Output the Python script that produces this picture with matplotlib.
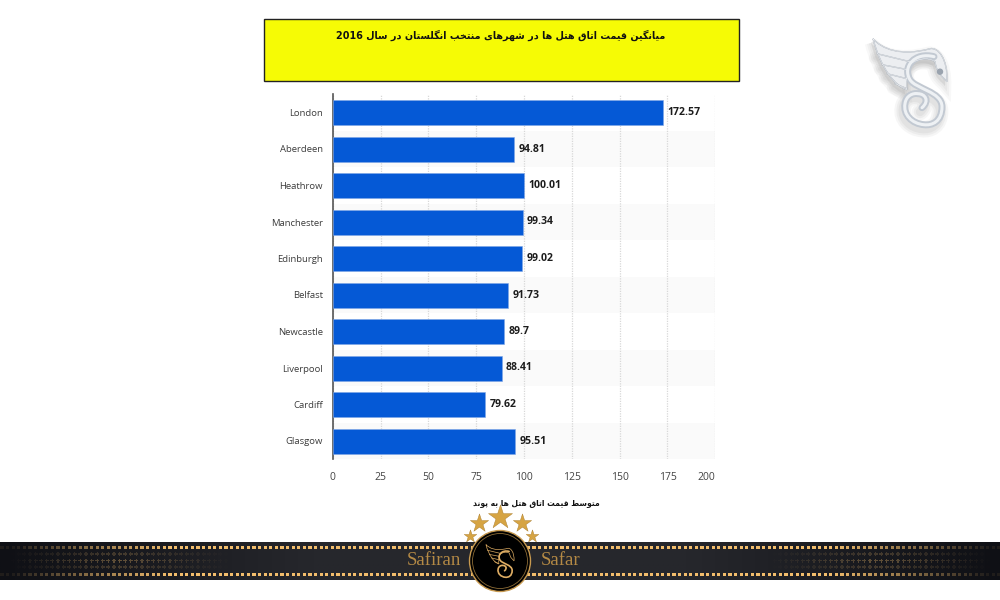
import matplotlib
matplotlib.use('Agg')
import matplotlib.pyplot as plt
from matplotlib.patches import Rectangle, Circle, PathPatch
from matplotlib.path import Path
import numpy as np

cities = ['London', 'Aberdeen', 'Heathrow', 'Manchester', 'Edinburgh',
          'Belfast', 'Newcastle', 'Liverpool', 'Cardiff', 'Glasgow']
prices = [172.57, 94.81, 100.01, 99.34, 99.02, 91.73, 89.7, 88.41, 79.62, 95.51]
price_labels = ['172.57', '94.81', '100.01', '99.34', '99.02',
                '91.73', '89.7', '88.41', '79.62', '95.51']
xticks = [0, 25, 50, 75, 100, 125, 150, 175, 200]

title_fa = 'میانگین قیمت اتاق هتل ها در شهرهای منتخب انگلستان در سال 2016'
xlabel_fa = 'متوسط قیمت اتاق هتل ها به پوند'

# presentation forms: isolated, final, initial, medial (matplotlib does not shape arabic)
forms = {
    'ا': (0xFE8D, 0xFE8E), 'د': (0xFEA9, 0xFEAA), 'ر': (0xFEAD, 0xFEAE), 'و': (0xFEED, 0xFEEE),
    'ب': (0xFE8F, 0xFE90, 0xFE91, 0xFE92), 'پ': (0xFB56, 0xFB57, 0xFB58, 0xFB59),
    'ت': (0xFE95, 0xFE96, 0xFE97, 0xFE98), 'خ': (0xFEA5, 0xFEA6, 0xFEA7, 0xFEA8),
    'س': (0xFEB1, 0xFEB2, 0xFEB3, 0xFEB4), 'ش': (0xFEB5, 0xFEB6, 0xFEB7, 0xFEB8),
    'ط': (0xFEC1, 0xFEC2, 0xFEC3, 0xFEC4), 'ق': (0xFED5, 0xFED6, 0xFED7, 0xFED8),
    'ک': (0xFB8E, 0xFB8F, 0xFB90, 0xFB91), 'گ': (0xFB92, 0xFB93, 0xFB94, 0xFB95),
    'ل': (0xFEDD, 0xFEDE, 0xFEDF, 0xFEE0), 'م': (0xFEE1, 0xFEE2, 0xFEE3, 0xFEE4),
    'ن': (0xFEE5, 0xFEE6, 0xFEE7, 0xFEE8), 'ه': (0xFEE9, 0xFEEA, 0xFEEB, 0xFEEC),
    'ی': (0xFBFC, 0xFBFD, 0xFBFE, 0xFBFF),
}


def shape_fa(text):
    words = []
    for word in text.split(' '):
        if word.isdigit():
            words.append(word)
            continue
        out = []
        for i, ch in enumerate(word):
            prev_joins = i > 0 and len(forms[word[i - 1]]) == 4
            next_joins = i < len(word) - 1 and len(forms[ch]) == 4
            f = forms[ch]
            if prev_joins and next_joins:
                out.append(chr(f[3]))
            elif prev_joins:
                out.append(chr(f[1]))
            elif next_joins:
                out.append(chr(f[2]))
            else:
                out.append(chr(f[0]))
        words.append(''.join(reversed(out)))
    return ' '.join(reversed(words))


def swan(ax, cx, cy, s, wing_fc, line_c, body_c, lw, body_lw, zorder=5):
    # wing + S shape, coordinates relative to the logo centre
    M, C = Path.MOVETO, Path.CURVE4
    wing = [(-37, -38), (-28, -28), (-10, -20), (20, -28),
            (28, -30), (38, -18), (37, 5),
            (33, 0), (27, -2), (25, -15),
            (18, -20), (6, -18), (0, -12),
            (-3, -5), (-4, 5), (-3, 13),
            (-15, 10), (-30, -10), (-37, -38)]
    ax.add_patch(PathPatch(Path([(cx + x * s, cy + y * s) for x, y in wing], [M] + [C] * 18),
                           fc=wing_fc, ec=line_c, lw=lw, zorder=zorder))
    for x0, y0, x1, y1 in [(-33, -23, 0, -15), (-28, -12, -2, -7),
                           (-23, -3, -3, 2), (-15, 7, -3, 12)]:
        ax.plot([cx + x0 * s, cx + x1 * s], [cy + y0 * s, cy + y1 * s],
                color=line_c, lw=lw, solid_capstyle='round', zorder=zorder + 0.1)
    body = [(24, -20), (5, -25), (-8, -10), (0, 3),
            (5, 12), (32, 15), (32, 30),
            (32, 45), (22, 49), (14, 48),
            (2, 47), (-7, 38), (-5, 27),
            (-4, 19), (3, 16), (8, 17),
            (15, 17), (20, 24), (12, 31)]
    ax.add_patch(PathPatch(Path([(cx + x * s, cy + y * s) for x, y in body], [M] + [C] * 18),
                           fc='none', ec=body_c, lw=body_lw, capstyle='round', zorder=zorder + 0.2))


fig = plt.figure(figsize=(10, 6), dpi=100, facecolor='white')

# chart axes placed on the pixel box of the reference
ax = fig.add_axes([332.8 / 1000, 1 - 459.25 / 600, (715.3 - 332.8) / 1000, 365 / 600])
y = np.arange(len(cities))
ax.set_xlim(0, 200)
ax.set_ylim(len(cities) - 0.5, -0.5)
for i in y[1::2]:
    ax.axhspan(i - 0.5, i + 0.5, color='#fafafa', lw=0, zorder=0)
ax.grid(axis='x', color='#d8d8d8', lw=0.9, ls=(0, (1, 1)), zorder=1)
ax.set_axisbelow(True)
ax.barh(y, prices, height=25 / 36.5, color='#0559d6', edgecolor='#7fa6e6', lw=0.4, zorder=3)
for yi, val, lab in zip(y, prices, price_labels):
    ax.text(val + 2.2, yi, lab, va='center', ha='left', family='Open Sans',
            fontsize=7.6, fontweight='bold', color='#1c1c1c')
for s in ['top', 'right', 'bottom']:
    ax.spines[s].set_visible(False)
ax.spines['left'].set_color('#555555')
ax.spines['left'].set_linewidth(1.2)
ax.set_yticks(y)
ax.set_yticklabels(cities, family='Open Sans', fontsize=6.8, color='#3c3c3c')
ax.set_xticks(xticks)
ax.set_xticklabels([str(t) for t in xticks], family='Open Sans', fontsize=7.5, color='#444444')
ax.get_xticklabels()[-1].set_ha('right')
ax.tick_params(axis='both', length=0)
ax.tick_params(axis='y', pad=7)
ax.tick_params(axis='x', pad=9)
ax.set_facecolor('white')

# overlay in pixel coordinates for title box, footer and logos
ov = fig.add_axes([0, 0, 1, 1], zorder=10)
ov.set_xlim(0, 1000)
ov.set_ylim(600, 0)
ov.axis('off')
ov.patch.set_alpha(0)

ov.add_patch(Rectangle((264, 19), 475, 62, fc='#f6fb05', ec='#222222', lw=1.0))
ov.text(501, 35, shape_fa(title_fa), ha='center', va='center', fontsize=6.9,
        fontweight='bold', family='DejaVu Sans', color='#111111')
ov.text(536.5, 503, shape_fa(xlabel_fa), ha='center', va='center', fontsize=5.5,
        fontweight='bold', family='DejaVu Sans', color='#111111')

# footer band, darker towards the sides
grad = 1 - np.abs(np.linspace(-1, 1, 400))
grad = np.clip(grad * 1.6, 0, 1).reshape(1, -1)
cmap = matplotlib.colors.LinearSegmentedColormap.from_list('band', ['#0f1015', '#26272c'])
ov.imshow(grad, extent=(0, 1000, 580, 542), aspect='auto', cmap=cmap, vmin=0, vmax=1, zorder=1)
ov.set_xlim(0, 1000)
ov.set_ylim(600, 0)
xs = np.arange(2, 1000, 5.6)
side = np.minimum(xs, 1000 - xs)
edge = np.clip(side / 170, 0.08, 1)
for ry in [547.5, 574.3]:
    ov.scatter(xs, np.full_like(xs, ry), s=5, marker='s', c='#f2bd6c', alpha=edge, lw=0, zorder=2)
for ry, peak in [(554, 0.3), (560.7, 0.5), (567, 0.3)]:
    a = np.clip(1 - np.abs(side - 120) / 110, 0, 1) * peak
    ov.scatter(xs, np.full_like(xs, ry), s=9, marker='P', c='#b08c55', alpha=a, lw=0, zorder=2)
ov.text(433.5, 560.5, 'Safiran', ha='center', va='center', family='Liberation Serif',
        fontsize=13.5, color='#b58a45', zorder=3)
ov.text(560.5, 560.5, 'Safar', ha='center', va='center', family='Liberation Serif',
        fontsize=13.5, color='#b58a45', zorder=3)

# medallion + stars
ov.add_patch(Circle((500, 561), 30.5, fc='#000000', ec='#c89a50', lw=1.0, zorder=4))
ov.add_patch(Circle((500, 561), 27.5, fc='none', ec='#8a6a35', lw=0.6, zorder=4))
swan(ov, 500, 559, 0.38, 'none', '#d9a860', '#e0ae64', 0.5, 1.2)
for sx, sy, size in [(500, 517, 330), (479, 523, 190), (522, 523, 190), (470, 535.5, 90), (532, 535.5, 90)]:
    ov.scatter([sx], [sy], s=size, marker='*', c='#d6a443', edgecolors='#a87a28', linewidths=0.3, zorder=5)

# silver logo, soft shadow first
for w, a in [(9, 0.10), (6, 0.12), (3, 0.15)]:
    swan(ov, 908, 81, 1.0, '#bbbbbb', '#bbbbbb', '#aaaaaa', w, w + 3, zorder=2)
    for art in list(ov.patches)[-2:] + list(ov.lines)[-4:]:
        art.set_alpha(a)
swan(ov, 910, 76.7, 1.0, '#eceef1', '#aab2bc', '#c2c9d2', 0.9, 5.0, zorder=3)
swan(ov, 910, 76.7, 1.0, 'none', '#ffffff', '#eef1f4', 0.3, 2.2, zorder=4)
ov.add_patch(Circle((30 + 910, -5 + 76.7), 3.2, fc='#9aa3ae', ec='none', zorder=5))

fig.savefig('out.png', dpi=100)
